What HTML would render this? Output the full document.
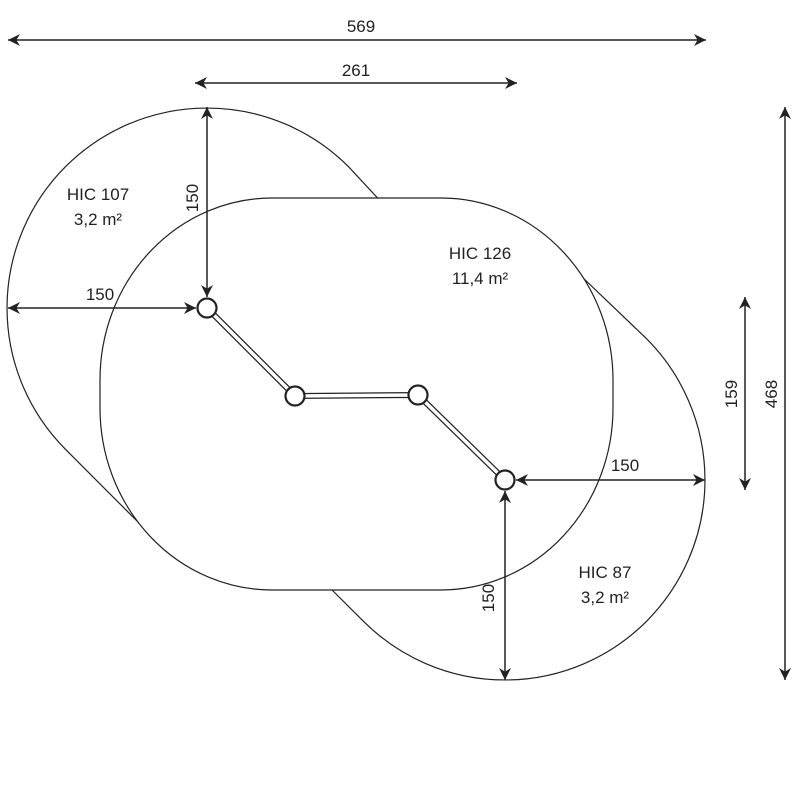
<!DOCTYPE html>
<html><head><style>body{margin:0;background:#fff}svg{display:block}text{font-family:"Liberation Sans",sans-serif;font-size:17px;fill:#222}</style></head><body>
<svg width="800" height="800" viewBox="0 0 800 800">
<defs><marker id="a" viewBox="0 0 10 10" refX="10" refY="5" markerWidth="12" markerHeight="12" markerUnits="userSpaceOnUse" orient="auto-start-reverse"><path d="M0,0 L10,5 L0,10 L3,5z" fill="#222"/></marker></defs>
<g fill="none" stroke="#222" stroke-width="1.2">
<path d="M385,206 L348.4,166.6 A200,200 0 0 0 65.6,166.6 A200,200 0 0 0 65.6,449.4 L140,524"/>
<path d="M580,275 L646.4,338.6 A200,200 0 0 1 646.4,621.4 A200,200 0 0 1 363.6,621.4 L325,583"/>
<rect x="100" y="198" width="513" height="392" rx="172" ry="182" fill="#fff"/>
</g>
<g stroke="#222" stroke-width="1.3" fill="none">
<path d="M207,308 L295,396 M295,396 L418,395 M418,395 L505,480" stroke-width="6"/>
<path d="M207,308 L295,396 M295,396 L418,395 M418,395 L505,480" stroke="#fff" stroke-width="3.5"/>
</g>
<g fill="#fff" stroke="#222" stroke-width="2.2">
<circle cx="207" cy="308" r="9.5"/><circle cx="295" cy="396" r="9.5"/><circle cx="418" cy="395" r="9.5"/><circle cx="505" cy="480" r="9.5"/>
</g>
<g stroke="#222" stroke-width="1.5" marker-start="url(#a)" marker-end="url(#a)">
<line x1="8" y1="40" x2="706" y2="40"/>
<line x1="195" y1="83" x2="517" y2="83"/>
<line x1="207" y1="107" x2="207" y2="297"/>
<line x1="8" y1="308" x2="196" y2="308"/>
<line x1="516" y1="480" x2="705" y2="480"/>
<line x1="505" y1="491" x2="505" y2="680"/>
<line x1="745" y1="297" x2="745" y2="490"/>
<line x1="785" y1="107" x2="785" y2="680"/>
</g>
<text x="361" y="32" text-anchor="middle">569</text>
<text x="356" y="76" text-anchor="middle">261</text>
<text x="100" y="300" text-anchor="middle">150</text>
<text x="625" y="471" text-anchor="middle">150</text>
<text transform="translate(198,198) rotate(-90)" text-anchor="middle">150</text>
<text transform="translate(494,598) rotate(-90)" text-anchor="middle">150</text>
<text transform="translate(737,394) rotate(-90)" text-anchor="middle">159</text>
<text transform="translate(777,394) rotate(-90)" text-anchor="middle">468</text>
<text x="98" y="200" text-anchor="middle">HIC 107</text>
<text x="98" y="225" text-anchor="middle">3,2 m²</text>
<text x="480" y="259" text-anchor="middle">HIC 126</text>
<text x="480" y="284" text-anchor="middle">11,4 m²</text>
<text x="605" y="578" text-anchor="middle">HIC 87</text>
<text x="605" y="603" text-anchor="middle">3,2 m²</text>
</svg>
</body></html>
